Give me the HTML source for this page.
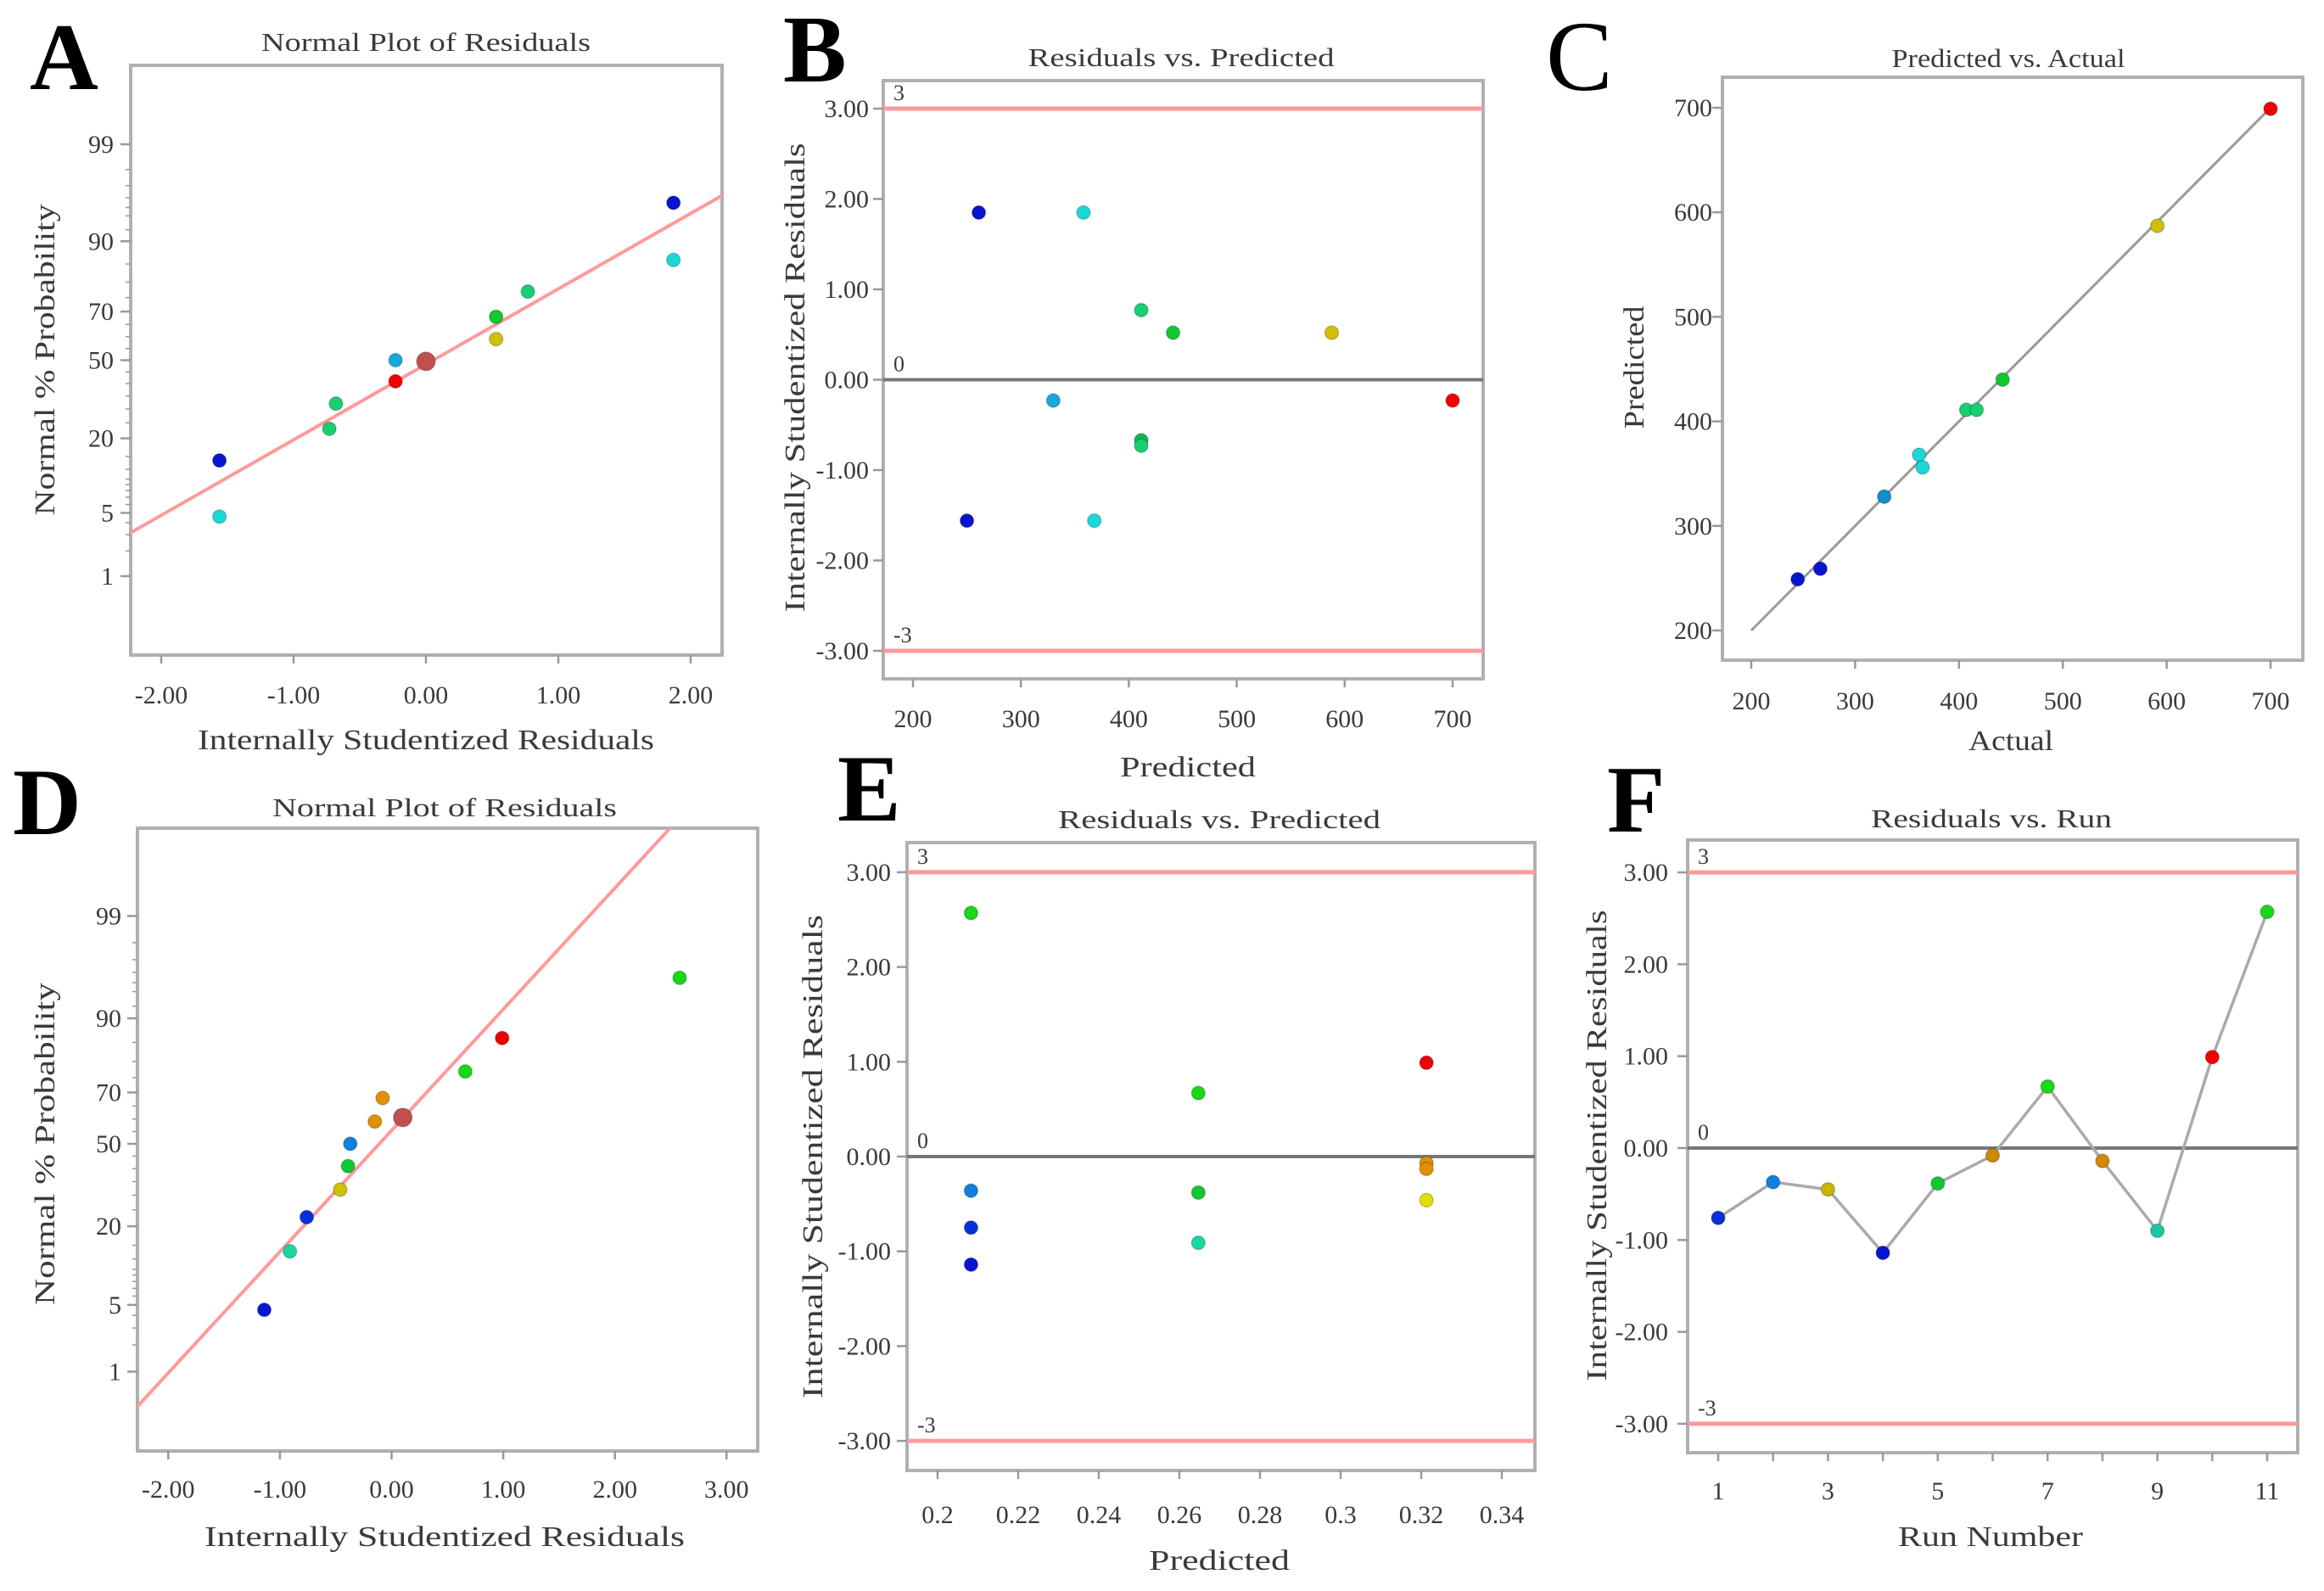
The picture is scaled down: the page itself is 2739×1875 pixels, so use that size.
<!DOCTYPE html>
<html><head><meta charset="utf-8"><style>
html,body{margin:0;padding:0;background:#fff;}
svg{display:block;}
text{font-family:"Liberation Serif",serif;fill:#3a3a3a;}
</style></head><body>
<svg id="fig" width="2739" height="1875" viewBox="0 0 2739 1875" xmlns="http://www.w3.org/2000/svg"></svg>
<script>
// ---- data ----
const aResid = [-1.56,-1.56,-0.73,-0.68,-0.23,-0.23,0.0,0.53,0.53,0.77,1.87,1.87];
const aProb  = [14,4.6,23,32,41,50,49.5,59,68,77,86,95.5];
const aColor = ['#0814d0','#18d8d8','#18d070','#18d070','#f00000','#18a8e0','#c05050','#d0c000','#10c830','#18d070','#18d8d8','#0814d0'];
const aLine = [0.813,-0.045];

const bPred  = [261,358,411.5,441,588,330,700,411.5,411.5,250,368];
const bResid = [1.85,1.85,0.77,0.52,0.52,-0.23,-0.23,-0.67,-0.73,-1.56,-1.56];
const bColor = ['#0814d0','#18d8d8','#18d070','#10c830','#d0c000','#18a8e0','#f00000','#10b850','#18d070','#0814d0','#18d8d8'];

const cActual = [244.7,266.5,328,361.6,365,407,417,442,591,700];
const cPred   = [249,259,328,368,356,411,411,440,587,699];
const cColor  = ['#0814d0','#0814d0','#1090c8','#18d8d8','#18d8d8','#18d070','#18d070','#10c830','#d0c000','#f00000'];

const dResid = [-1.14,-0.91,-0.76,-0.46,-0.39,-0.37,-0.15,-0.08,0.10,0.66,0.99,2.58];
const dProb  = [4.5,13.6,22.7,32,41,50,59,68,60.6,77,86,95.5];
const dColor = ['#0814d0','#18d8a0','#0830d8','#d0c000','#10c830','#1080e0','#e09000','#e09000','#c05050','#18d818','#f00000','#18d818'];
const dLine = [1.238,0.136];

const ePred  = [0.2083,0.2083,0.2083,0.2083,0.2647,0.2647,0.2647,0.3213,0.3213,0.3213,0.3213];
const eResid = [2.57,-0.36,-0.75,-1.14,0.67,-0.38,-0.91,0.99,-0.07,-0.13,-0.46];
const eColor = ['#18d818','#1080e0','#0830d8','#0814d0','#18d818','#10c830','#18d8a0','#f00000','#e09000','#e09000','#e0e000'];

const fRun   = [1,2,3,4,5,6,7,8,9,10,11];
const fResid = [-0.76,-0.37,-0.45,-1.14,-0.385,-0.08,0.67,-0.14,-0.90,0.99,2.57];
const fColor = ['#0830d8','#1080e0','#c8b400','#0814d0','#10c830','#d08800','#18d818','#d08800','#18c8a0','#f00000','#18d818'];

const probTicks = [1,5,20,50,70,90,99];
const probLabels = ['1','5','20','50','70','90','99'];
const resTicksA = [-2,-1,0,1,2];
const resTicksD = [-2,-1,0,1,2,3];
const resLabelsA = ['-2.00','-1.00','0.00','1.00','2.00'];
const resLabelsD = ['-2.00','-1.00','0.00','1.00','2.00','3.00'];
const studTicks = [-3,-2,-1,0,1,2,3];
const studLabels = ['-3.00','-2.00','-1.00','0.00','1.00','2.00','3.00'];
const bxTicks = [200,300,400,500,600,700];
const bxLabels = ['200','300','400','500','600','700'];
const exTicks = [0.2,0.22,0.24,0.26,0.28,0.3,0.32,0.34];
const exLabels = ['0.2','0.22','0.24','0.26','0.28','0.3','0.32','0.34'];
const fxTicks = [1,2,3,4,5,6,7,8,9,10,11];
const fxLabels = ['1','','3','','5','','7','','9','','11'];

// ---- helpers ----
const NS='http://www.w3.org/2000/svg';
const svg=document.getElementById('fig');
function el(tag,attrs,parent){const e=document.createElementNS(NS,tag);for(const k in attrs)e.setAttribute(k,attrs[k]);(parent||svg).appendChild(e);return e;}
function txt(s,attrs,parent){const e=el('text',attrs,parent);e.textContent=s;return e;}
function normInv(p){
  const a=[-39.6968302866538,220.946098424521,-275.928510446969,138.357751867269,-30.6647980661472,2.50662827745924];
  const b=[-54.4760987982241,161.585836858041,-155.698979859887,66.8013118877197,-13.2806815528857];
  const c=[-0.00778489400243029,-0.322396458041136,-2.40075827716184,-2.54973253934373,4.37466414146977,2.93816398269878];
  const d=[0.00778469570904146,0.32246712907004,2.445134137143,3.75440866190742];
  const pl=0.02425;let q,r;
  if(p<pl){q=Math.sqrt(-2*Math.log(p));return (((((c[0]*q+c[1])*q+c[2])*q+c[3])*q+c[4])*q+c[5])/((((d[0]*q+d[1])*q+d[2])*q+d[3])*q+1);}
  if(p>1-pl){q=Math.sqrt(-2*Math.log(1-p));return -(((((c[0]*q+c[1])*q+c[2])*q+c[3])*q+c[4])*q+c[5])/((((d[0]*q+d[1])*q+d[2])*q+d[3])*q+1);}
  q=p-0.5;r=q*q;return (((((a[0]*r+a[1])*r+a[2])*r+a[3])*r+a[4])*r+a[5])*q/(((((b[0]*r+b[1])*r+b[2])*r+b[3])*r+b[4])*r+1);
}

function panel(cfg){
  const g=el('g',{});
  
  
  const [L,T,R,B]=cfg.box;
  const clipId='clip-'+cfg.name;
  const cp=el('clipPath',{id:clipId},g);el('rect',{x:L,y:T,width:R-L,height:B-T},cp);
  const bg=el('rect',{x:L,y:T,width:R-L,height:B-T,fill:'#fff',stroke:'#b0b0b0','stroke-width':4},g);
  
  
  const lt=txt(cfg.letter,{x:cfg.letterPos[0],y:cfg.letterPos[1],'font-size':cfg.letterSize||112,'font-weight':cfg.letterBold===false?'normal':'bold',style:'fill:#000'},g);
  
  
  const t=txt(cfg.title,{x:cfg.titlePos[0],y:cfg.titlePos[1],'font-size':31,'text-anchor':'middle',textLength:cfg.titleW,lengthAdjust:'spacingAndGlyphs'},g);
  
  
  const xg=el('g',{},g);
  
  
  cfg.xTicks.forEach((v,i)=>{
    const x=cfg.sx(v);
    el('line',{x1:x,y1:B,x2:x,y2:B+10,stroke:'#999','stroke-width':2.5},xg);
    if(cfg.xLabels[i]){const tl=txt(cfg.xLabels[i],{x:x,y:cfg.xLabY,'font-size':30,'text-anchor':'middle'},xg);
      
      }
  });
  const xl=txt(cfg.xTitle,{x:cfg.xTitlePos[0],y:cfg.xTitlePos[1],'font-size':34,'text-anchor':'middle',textLength:cfg.xTitleW,lengthAdjust:'spacingAndGlyphs'},g);
  
  
  const yg=el('g',{},g);
  
  
  if(cfg.minor){cfg.minor.forEach(v=>{const y=cfg.sy(v);el('line',{x1:L-6,y1:y,x2:L,y2:y,stroke:'#999','stroke-width':1.5},yg);});}
  cfg.yTicks.forEach((v,i)=>{
    const y=cfg.sy(v);
    el('line',{x1:L-12,y1:y,x2:L,y2:y,stroke:'#999','stroke-width':2.5},yg);
    const tl=txt(cfg.yLabels[i],{x:cfg.yLabX,y:y+10,'font-size':30,'text-anchor':'end'},yg);
    
    
  });
  const yl=txt(cfg.yTitle,{x:0,y:0,'font-size':34,'text-anchor':'middle',textLength:cfg.yTitleW,lengthAdjust:'spacingAndGlyphs',transform:`translate(${cfg.yTitlePos[0]+12},${cfg.yTitlePos[1]}) rotate(-90)`},g);
  
  
  const inner=el('g',{'clip-path':`url(#${clipId})`},g);
  return {g,inner,L,T,R,B};
}
function refLines(p,sy){
  [[3,'#ff9a9a','3'],[0,'#777','0'],[-3,'#ff9a9a','-3']].forEach(([v,col,lab])=>{
    const y=sy(v);
    const ln=el('line',{x1:p.L,y1:y,x2:p.R,y2:y,stroke:col,'stroke-width':v===0?4:5},p.inner);
    
    
    const tl=txt(lab,{x:p.L+12,y:y-10,'font-size':26},p.g);
    
    
  });
}
function dot(parent,x,y,c,r){
  const d=el('circle',{cx:x,cy:y,r:r||8,fill:c,stroke:'rgba(0,0,0,0.2)','stroke-width':1.5},parent);
  
  
  return d;
}
const probMinor=[2,3,4,6,7,8,9,10,12,15,25,30,35,40,45,55,60,65,75,80,85,92,94,95,96,97,98];

// ---- Panel A ----
{
  const sx=v=>502+v*156, sy=p=>424.5-normInv(p/100)*109.4;
  const p=panel({name:'panel-a-normal-plot',box:[154,77,851,772],letter:'A',letterPos:[35,105],
    title:'Normal Plot of Residuals',titlePos:[502,60],titleW:388,
    xTicks:resTicksA,xLabels:resLabelsA,sx,xLabY:829,xTitle:'Internally Studentized Residuals',xTitlePos:[502,883],xTitleW:538,
    yTicks:probTicks,yLabels:probLabels,sy,yLabX:134,yTitle:'Normal % Probability',yTitlePos:[52,424],yTitleW:367,minor:probMinor});
  const zx=v=>424.5-(aLine[0]*v+aLine[1])*109.4;
  const ln=el('line',{x1:sx(-2.4),y1:zx(-2.4),x2:sx(2.4),y2:zx(2.4),stroke:'#ff9a9a','stroke-width':4},p.inner);
  
  
  aResid.forEach((v,i)=>dot(p.inner,sx(v),sy(aProb[i]),aColor[i],aColor[i]==='#c05050'?11:8));
}
// ---- Panel B ----
{
  const sx=v=>1076+(v-200)*1.272, sy=v=>447.5-v*106.5;
  const p=panel({name:'panel-b-residuals-vs-predicted',box:[1041,95,1748,800],letter:'B',letterPos:[923,96],
    title:'Residuals vs. Predicted',titlePos:[1392,78],titleW:361,
    xTicks:bxTicks,xLabels:bxLabels,sx,xLabY:857,xTitle:'Predicted',xTitlePos:[1400,915],xTitleW:160,
    yTicks:studTicks,yLabels:studLabels,sy,yLabX:1024,yTitle:'Internally Studentized Residuals',yTitlePos:[936,445],yTitleW:553});
  refLines(p,sy);
  bPred.forEach((v,i)=>dot(p.inner,sx(v),sy(bResid[i]),bColor[i]));
}
// ---- Panel C ----
{
  const sx=v=>2064+(v-200)*1.224, sy=v=>743-(v-200)*1.232;
  const p=panel({name:'panel-c-predicted-vs-actual',box:[2030,91,2714,778],letter:'C',letterPos:[1822,106],letterBold:false,letterSize:118,
    title:'Predicted vs. Actual',titlePos:[2367,79],titleW:275,
    xTicks:bxTicks,xLabels:bxLabels,sx,xLabY:836,xTitle:'Actual',xTitlePos:[2370,884],xTitleW:100,
    yTicks:bxTicks,yLabels:bxLabels,sy,yLabX:2018,yTitle:'Predicted',yTitlePos:[1925,433],yTitleW:145});
  const ln=el('line',{x1:sx(200),y1:sy(200),x2:sx(700),y2:sy(700),stroke:'#999','stroke-width':3},p.inner);
  
  
  cActual.forEach((v,i)=>dot(p.inner,sx(v),sy(cPred[i]),cColor[i]));
}
// ---- Panel D ----
{
  const sx=v=>461.5+v*131.6, sy=p=>1348-normInv(p/100)*115.4;
  const p=panel({name:'panel-d-normal-plot',box:[162,976,893,1710],letter:'D',letterPos:[15,983],
    title:'Normal Plot of Residuals',titlePos:[524,962],titleW:406,
    xTicks:resTicksD,xLabels:resLabelsD,sx,xLabY:1765,xTitle:'Internally Studentized Residuals',xTitlePos:[524,1822],xTitleW:566,
    yTicks:probTicks,yLabels:probLabels,sy,yLabX:143,yTitle:'Normal % Probability',yTitlePos:[52,1348],yTitleW:380,minor:probMinor});
  const zx=v=>1348-(dLine[0]*v+dLine[1])*115.4;
  const ln=el('line',{x1:sx(-2.5),y1:zx(-2.5),x2:sx(3),y2:zx(3),stroke:'#ff9a9a','stroke-width':4},p.inner);
  
  
  dResid.forEach((v,i)=>dot(p.inner,sx(v),sy(dProb[i]),dColor[i],dColor[i]==='#c05050'?11:8));
}
// ---- Panel E ----
{
  const sx=v=>1105+(v-0.2)*4750, sy=v=>1363-v*111.7;
  const p=panel({name:'panel-e-residuals-vs-predicted',box:[1069,993,1809,1733],letter:'E',letterPos:[987,967],
    title:'Residuals vs. Predicted',titlePos:[1437,976],titleW:380,
    xTicks:exTicks,xLabels:exLabels,sx,xLabY:1795,xTitle:'Predicted',xTitlePos:[1437,1850],xTitleW:166,
    yTicks:studTicks,yLabels:studLabels,sy,yLabX:1050,yTitle:'Internally Studentized Residuals',yTitlePos:[957,1363],yTitleW:570});
  refLines(p,sy);
  ePred.forEach((v,i)=>dot(p.inner,sx(v),sy(eResid[i]),eColor[i]));
}
// ---- Panel F ----
{
  const sx=v=>2025+(v-1)*64.7, sy=v=>1353-v*108.3;
  const p=panel({name:'panel-f-residuals-vs-run',box:[1989,990,2708,1712],letter:'F',letterPos:[1894,980],
    title:'Residuals vs. Run',titlePos:[2347,975],titleW:284,
    xTicks:fxTicks,xLabels:fxLabels,sx,xLabY:1767,xTitle:'Run Number',xTitlePos:[2346,1822],xTitleW:218,
    yTicks:studTicks,yLabels:studLabels,sy,yLabX:1966,yTitle:'Internally Studentized Residuals',yTitlePos:[1881,1350],yTitleW:555});
  refLines(p,sy);
  const pts=fRun.map((v,i)=>sx(v)+','+sy(fResid[i])).join(' ');
  const pl=el('polyline',{points:pts,fill:'none',stroke:'#aaa','stroke-width':3.5},p.inner);
  
  
  fRun.forEach((v,i)=>dot(p.inner,sx(v),sy(fResid[i]),fColor[i]));
}
</script>
</body></html>
